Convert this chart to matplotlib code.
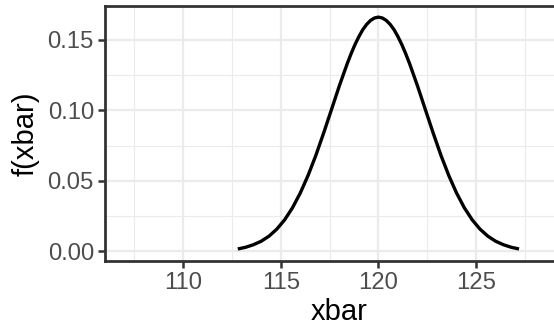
import matplotlib
matplotlib.use("Agg")
import matplotlib.pyplot as plt
from matplotlib.ticker import MultipleLocator

# density values (left half, peak at 120)
xbar_left = [112.8, 113.2, 113.6, 114.0, 114.4, 114.8, 115.2, 115.6, 116.0,
             116.4, 116.8, 117.2, 117.6, 118.0, 118.4, 118.6, 118.8, 119.0,
             119.2, 119.4, 119.6, 119.8]
fx_left = [0.0018, 0.0030, 0.0048, 0.0073, 0.0109, 0.0159, 0.0225, 0.0310,
           0.0415, 0.0540, 0.0683, 0.0842, 0.1008, 0.1175, 0.1331, 0.1402,
           0.1467, 0.1524, 0.1573, 0.1611, 0.1639, 0.1656]
xbar = xbar_left + [120.0] + [240.0 - v for v in xbar_left[::-1]]
fx = fx_left + [0.1662] + fx_left[::-1]

xticks = [110, 115, 120, 125]
yticks = [0.00, 0.05, 0.10, 0.15]
ylabels = ["0.00", "0.05", "0.10", "0.15"]

plt.rcParams["font.family"] = ["Liberation Sans", "DejaVu Sans"]

fig = plt.figure(figsize=(5.54, 3.30), dpi=100)
ax = fig.add_axes([105 / 554, 69 / 330, 468.7 / 554, 255 / 330])

ax.plot(xbar, fx, color="black", lw=2.4, zorder=3, solid_capstyle="butt",
        solid_joinstyle="round")

ax.set_xlim(106.0, 130.0)
ax.set_ylim(-0.00674, 0.1741)
ax.set_xticks(xticks)
ax.set_yticks(yticks)
ax.set_yticklabels(ylabels)
ax.xaxis.set_minor_locator(MultipleLocator(2.5))
ax.yaxis.set_minor_locator(MultipleLocator(0.025))

ax.grid(which="major", color="#EBEBEB", lw=1.6, zorder=0)
ax.grid(which="minor", color="#EBEBEB", lw=0.8, zorder=0)
ax.set_axisbelow(True)

for s in ax.spines.values():
    s.set_color("#333333")
    s.set_linewidth(2.0)

ax.tick_params(which="major", length=5, width=1.8, color="#333333",
               labelsize=17.2, labelcolor="#4D4D4D", pad=3)
ax.tick_params(which="minor", length=0)

ax.set_xlabel("xbar", fontsize=21, labelpad=3)
ax.set_ylabel("f(xbar)", fontsize=21, labelpad=6)

fig.savefig("out.png", dpi=100)
